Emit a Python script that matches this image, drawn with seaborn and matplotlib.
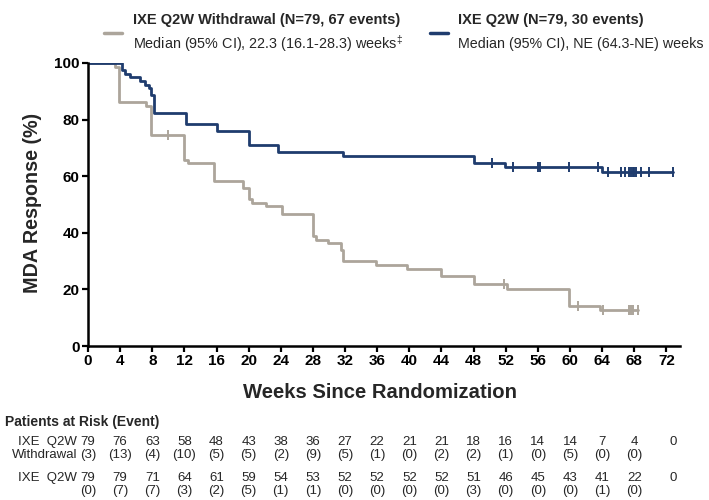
import pandas as pd
import matplotlib.pyplot as plt
import seaborn as sns
from matplotlib.lines import Line2D
from matplotlib.transforms import blended_transform_factory

# Kaplan-Meier step data (weeks, % still in MDA)
wd_weeks = [0, 3.4, 3.9, 7.2, 7.9, 12.0, 12.4, 15.7, 19.3, 20.0, 20.4, 22.2,
            24.2, 28.0, 28.4, 29.9, 31.5, 31.8, 35.8, 39.7, 44.0, 48.0, 52.2,
            59.9, 63.8, 68.5]
wd_resp = [100, 98.7, 86.1, 84.8, 74.7, 65.8, 64.5, 58.2, 55.7, 51.9, 50.6,
           49.4, 46.8, 38.9, 37.6, 36.3, 34.0, 29.9, 28.6, 27.2, 24.6, 21.8,
           20.2, 14.3, 12.7, 12.7]
wd_censor = [10.0, 51.8, 61.0, 64.1, 67.4, 67.6, 67.9, 68.5]

q2w_weeks = [0, 4.2, 4.6, 5.2, 6.5, 7.1, 7.6, 7.9, 8.2, 12.2, 16.1, 20.0,
             23.7, 31.8, 48.0, 51.9, 64.0, 72.8]
q2w_resp = [100, 97.5, 96.2, 94.9, 93.7, 92.4, 91.1, 88.6, 82.3, 78.5, 75.9,
            70.9, 68.4, 67.1, 64.5, 63.2, 61.6, 61.6]
q2w_censor = [50.3, 52.9, 56.0, 56.3, 59.9, 63.5, 64.7, 66.4, 66.8, 67.4,
              67.6, 67.8, 68.0, 68.2, 68.8, 69.9, 72.8]

# Patients at risk table
risk_weeks = [0, 4, 8, 12, 16, 20, 24, 28, 32, 36, 40, 44, 48, 52, 56, 60, 64, 68, 72.8]
wd_risk = [79, 76, 63, 58, 48, 43, 38, 36, 27, 22, 21, 21, 18, 16, 14, 14, 7, 4, 0]
wd_events = [3, 13, 4, 10, 5, 5, 2, 9, 5, 1, 0, 2, 2, 1, 0, 5, 0, 0, None]
q2w_risk = [79, 79, 71, 64, 61, 59, 54, 53, 52, 52, 52, 52, 51, 46, 45, 43, 41, 22, 0]
q2w_events = [0, 7, 7, 3, 2, 5, 1, 1, 0, 0, 0, 0, 3, 0, 0, 0, 1, 0, None]

x_ticks = list(range(0, 73, 4))
y_ticks = [0, 20, 40, 60, 80, 100]

wd_label = 'IXE Q2W Withdrawal (N=79, 67 events)'
wd_median = r'Median (95% CI), 22.3 (16.1-28.3) weeks$^{\ddag}$'
q2w_label = 'IXE Q2W (N=79, 30 events)'
q2w_median = 'Median (95% CI), NE (64.3-NE) weeks'

GRAY = '#aca59b'
BLUE = '#1f3c6e'

sns.set_style('ticks')
plt.rcParams['font.family'] = ['Liberation Sans', 'DejaVu Sans']
plt.rcParams['mathtext.fontset'] = 'custom'
plt.rcParams['mathtext.rm'] = 'Liberation Sans'

df = pd.concat([
    pd.DataFrame({'week': wd_weeks, 'resp': wd_resp, 'arm': 'wd'}),
    pd.DataFrame({'week': q2w_weeks, 'resp': q2w_resp, 'arm': 'q2w'}),
])

fig = plt.figure(figsize=(7.09, 5.0), dpi=100)
ax = fig.add_axes([88 / 709, 1 - 346 / 500, 592 / 709, 283 / 500])

sns.lineplot(data=df, x='week', y='resp', hue='arm', palette={'wd': GRAY, 'q2w': BLUE},
             estimator=None, sort=False, drawstyle='steps-post', linewidth=2.0,
             legend=False, ax=ax)


def level_at(weeks, resp, t):
    val = resp[0]
    for w, r in zip(weeks, resp):
        if w <= t:
            val = r
    return val


ax.plot(wd_censor, [level_at(wd_weeks, wd_resp, t) for t in wd_censor], ls='none',
        marker='|', ms=7, mew=1.4, color=GRAY)
ax.plot(q2w_censor, [level_at(q2w_weeks, q2w_resp, t) for t in q2w_censor], ls='none',
        marker='|', ms=7, mew=1.4, color=BLUE)

ax.set_xlim(0, 73.7)
ax.set_ylim(0, 100)
ax.set_xticks(x_ticks)
ax.set_yticks(y_ticks)
sns.despine(ax=ax)
for s in ['left', 'bottom']:
    ax.spines[s].set_linewidth(1.8)
    ax.spines[s].set_color('black')
ax.tick_params(axis='both', length=4, width=1.6, pad=2, labelsize=11, colors='black')
for lab in ax.get_xticklabels() + ax.get_yticklabels():
    lab.set_fontweight('bold')

ax.set_ylabel('MDA Response (%)', fontsize=14.2, fontweight='bold', va='center')
ax.yaxis.set_label_coords(-0.093, 0.507)
ax.set_xlabel('Weeks Since Randomization', fontsize=14.6, fontweight='bold', va='center')
ax.xaxis.set_label_coords(0.494, -0.165)


# legend drawn by hand at the top
def fx(px):
    return px / 709


def fy(py):
    return 1 - py / 500


fig.add_artist(Line2D([fx(104), fx(122)], [fy(33), fy(33)], color=GRAY, lw=2.5))
fig.add_artist(Line2D([fx(430), fx(448)], [fy(33), fy(33)], color=BLUE, lw=2.5))
fig.text(fx(133), fy(20), wd_label, fontsize=10.5, fontweight='bold', va='center')
fig.text(fx(133), fy(44), wd_median, fontsize=10.4, va='center')
fig.text(fx(458), fy(20), q2w_label, fontsize=10.5, fontweight='bold', va='center')
fig.text(fx(458), fy(44), q2w_median, fontsize=10.3, va='center')

# patients at risk table
fig.text(fx(5), fy(422), 'Patients at Risk (Event)', fontsize=10, fontweight='bold', va='center')
tr = blended_transform_factory(ax.transData, fig.transFigure)
row_y = [442, 455, 478, 491]
fig.text(fx(77), fy(row_y[0]), 'IXE  Q2W', fontsize=9.5, ha='right', va='center')
fig.text(fx(77), fy(row_y[1]), 'Withdrawal', fontsize=9.5, ha='right', va='center')
fig.text(fx(77), fy(row_y[2]), 'IXE  Q2W', fontsize=9.5, ha='right', va='center')
for w, n, e in zip(risk_weeks, wd_risk, wd_events):
    ax.text(w, fy(row_y[0]), str(n), transform=tr, fontsize=9.5, ha='center', va='center', clip_on=False)
    if e is not None:
        ax.text(w, fy(row_y[1]), f'({e})', transform=tr, fontsize=9.5, ha='center', va='center', clip_on=False)
for w, n, e in zip(risk_weeks, q2w_risk, q2w_events):
    ax.text(w, fy(row_y[2]), str(n), transform=tr, fontsize=9.5, ha='center', va='center', clip_on=False)
    if e is not None:
        ax.text(w, fy(row_y[3]), f'({e})', transform=tr, fontsize=9.5, ha='center', va='center', clip_on=False)

fig.savefig('out.png', dpi=100)
